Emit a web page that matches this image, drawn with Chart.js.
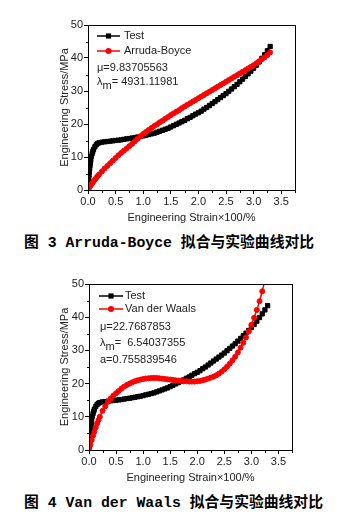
<!DOCTYPE html>
<html>
<head>
<meta charset="utf-8">
<script src="https://cdn.jsdelivr.net/npm/chart.js@4.4.1/dist/chart.umd.min.js"></script>
<style>
  body { margin: 0; background: #fff; }
  #page { position: relative; width: 341px; height: 529px; overflow: hidden; }
  canvas { position: absolute; left: 0; }
  .caption {
    position: absolute; left: 24px;
    font: bold 14.8px/18px "Liberation Mono", "Noto Sans CJK SC", monospace;
    color: #000; white-space: pre;
  }
</style>
</head>
<body>
<div id="page">
  <canvas id="abChart" width="341" height="230" style="top:0"></canvas>
  <div class="caption" style="top:234px">图 3 Arruda-Boyce 拟合与实验曲线对比</div>
  <canvas id="vdwChart" width="341" height="230" style="top:260px"></canvas>
  <div class="caption" style="top:494px">图 4 Van der Waals 拟合与实验曲线对比</div>
</div>
<script>
// test curve
const testStrain = [0, 0.005, 0.01, 0.015, 0.02, 0.025, 0.03, 0.035, 0.04, 0.045, 0.05, 0.0625,
  0.075, 0.0875, 0.1, 0.125, 0.15, 0.175,
  0.2, 0.25, 0.3, 0.35, 0.4, 0.45, 0.5, 0.55, 0.6, 0.65, 0.7, 0.75, 0.8, 0.85, 0.9, 0.95,
  1.0, 1.05, 1.1, 1.15, 1.2, 1.25, 1.3, 1.35, 1.4, 1.45, 1.5, 1.55, 1.6, 1.65, 1.7, 1.75,
  1.8, 1.85, 1.9, 1.95, 2.0, 2.05, 2.1, 2.15, 2.2, 2.25, 2.3, 2.35, 2.4, 2.45, 2.5, 2.55,
  2.6, 2.65, 2.7, 2.75, 2.8, 2.85, 2.9, 2.95, 3.0, 3.05, 3.1, 3.15, 3.2, 3.25, 3.3];
const testStress = [0, 1.3, 2.5, 3.5, 4.5, 5.5, 6.5, 7.3, 8.0, 8.6, 9.2, 10.2,
  11.0, 11.7, 12.3, 13.1, 13.7, 14.1,
  14.3, 14.5, 14.6, 14.7, 14.8, 14.9, 15.0, 15.1, 15.2, 15.35, 15.5, 15.6, 15.75, 15.9, 16.05, 16.2,
  16.4, 16.6, 16.8, 17.0, 17.2, 17.5, 17.8, 18.1, 18.4, 18.7, 19.1, 19.5, 19.9, 20.3, 20.7, 21.1,
  21.6, 22.0, 22.5, 23.0, 23.4, 23.9, 24.5, 25.0, 25.6, 26.2, 26.8, 27.4, 28.0, 28.6, 29.2, 29.9,
  30.6, 31.3, 32.0, 32.8, 33.6, 34.4, 35.2, 36.0, 36.9, 37.8, 38.8, 39.9, 41.0, 42.2, 43.5];

// fitted curves
const fitStrain = [0, 0.025, 0.05, 0.075, 0.1, 0.125, 0.15, 0.175, 0.2, 0.25, 0.3, 0.35, 0.4,
  0.45, 0.5, 0.55, 0.6, 0.65,
  0.7, 0.75, 0.8, 0.85, 0.9, 0.95, 1.0, 1.05, 1.1, 1.15, 1.2, 1.25, 1.3, 1.35, 1.4, 1.45, 1.5,
  1.55, 1.6, 1.65, 1.7, 1.75, 1.8, 1.85, 1.9, 1.95, 2.0, 2.05, 2.1, 2.15, 2.2, 2.25, 2.3, 2.35,
  2.4, 2.45, 2.5, 2.55, 2.6, 2.65, 2.7, 2.75, 2.8, 2.85, 2.9, 2.95, 3.0, 3.05, 3.1, 3.15, 3.2,
  3.25, 3.3];
const abStress = [0, 0.75, 1.4, 2.0, 2.6, 3.15, 3.7, 4.2, 4.7, 5.6, 6.5, 7.3, 8.1,
  8.9, 9.7, 10.5, 11.2, 11.9,
  12.6, 13.3, 14.0, 14.8, 15.5, 16.3, 17.0, 17.6, 18.2, 18.8, 19.4, 19.9, 20.5, 21.0, 21.6, 22.1, 22.7,
  23.2, 23.7, 24.2, 24.8, 25.3, 25.8, 26.3, 26.8, 27.3, 27.8, 28.3, 28.8, 29.3, 29.8, 30.3, 30.8, 31.3,
  31.8, 32.3, 32.8, 33.3, 33.8, 34.3, 34.8, 35.3, 35.8, 36.3, 36.8, 37.3, 37.8, 38.4, 39.0, 39.6, 40.2,
  40.9, 41.7];
const vdwStress = [0, 1.6, 3.0, 4.3, 5.5, 6.8, 8.0, 9.0, 10.0, 11.8, 13.2, 14.5, 15.5,
  16.4, 17.1, 17.8, 18.5, 19.1,
  19.6, 20.0, 20.4, 20.7, 21.0, 21.2, 21.4, 21.5, 21.6, 21.7, 21.7, 21.7, 21.6, 21.5, 21.4, 21.3, 21.2,
  21.1, 21.0, 20.9, 20.8, 20.7, 20.7, 20.6, 20.6, 20.6, 20.7, 20.8, 21.0, 21.2, 21.5, 21.8, 22.1, 22.5,
  23.0, 23.6, 24.3, 25.1, 26.0, 27.0, 28.1, 29.4, 30.8, 32.3, 33.9, 35.7, 37.7, 39.8, 42.2, 44.8, 47.8,
  51.2];

const xTicks = [0, 0.5, 1.0, 1.5, 2.0, 2.5, 3.0, 3.5];
const yTicks = [0, 10, 20, 30, 40, 50];
const xMinor = [0.25, 0.75, 1.25, 1.75, 2.25, 2.75, 3.25, 3.75];
const yMinor = [5, 15, 25, 35, 45];

const abNotes = [['μ=9.83705563'], ['λ', 'm', '= 4931.11981']];
const vdwNotes = [['μ=22.7687853'], ['λ', 'm', '=  6.54037355'], ['a=0.755839546']];

Chart.defaults.font.family = '"Liberation Sans", Arial, sans-serif';
Chart.defaults.font.size = 11;
Chart.defaults.color = '#222';

function pts(xs, ys) {
  return ys.map((v, i) => ({x: xs[i], y: v}));
}

function marker(ctx, style, color, x, y) {
  ctx.fillStyle = color;
  ctx.beginPath();
  if (style === 'rect') ctx.rect(x - 2.6, y - 2.6, 5.2, 5.2);
  else ctx.arc(x, y, 3, 0, Math.PI * 2);
  ctx.fill();
}

// frame, minor ticks, in-plot legend and fit parameters
const decor = {
  id: 'decor',
  afterDraw(chart, args, o) {
    const {ctx, chartArea: a, scales: {x, y}} = chart;
    ctx.save();
    ctx.strokeStyle = '#000';
    ctx.lineWidth = 1;
    const L = Math.round(a.left) + 0.5, T = Math.round(a.top) + 0.5;
    const R = Math.round(a.right) + 0.5, B = Math.round(a.bottom) + 0.5;
    ctx.strokeRect(L, T, R - L, B - T);
    ctx.beginPath();
    xMinor.forEach(v => {
      const px = Math.round(x.getPixelForValue(v)) + 0.5;
      if (px <= R) { ctx.moveTo(px, B); ctx.lineTo(px, B + 2.5); }
    });
    yMinor.forEach(v => {
      const py = Math.round(y.getPixelForValue(v)) + 0.5;
      ctx.moveTo(L, py); ctx.lineTo(L - 2.5, py);
    });
    ctx.stroke();

    ctx.font = '11px "Liberation Sans", Arial, sans-serif';
    ctx.textBaseline = 'middle';
    chart.data.datasets.forEach((ds, i) => {
      const ry = o.legend.rows[i];
      ctx.strokeStyle = ds.borderColor;
      ctx.lineWidth = 1.5;
      ctx.beginPath();
      ctx.moveTo(o.legend.x0, ry);
      ctx.lineTo(o.legend.x1, ry);
      ctx.stroke();
      marker(ctx, ds.pointStyle, ds.borderColor, (o.legend.x0 + o.legend.x1) / 2, ry);
      ctx.fillStyle = '#222';
      ctx.fillText(ds.label, o.legend.textX, ry);
    });

    ctx.fillStyle = '#222';
    o.notes.lines.forEach((parts, i) => {
      const ry = o.notes.rows[i];
      let px = o.notes.x;
      if (parts.length === 1) { ctx.fillText(parts[0], px, ry); return; }
      ctx.fillText(parts[0], px, ry);
      px += ctx.measureText(parts[0]).width;
      ctx.fillText(parts[1], px, ry + 3.5);
      px += ctx.measureText(parts[1]).width;
      ctx.fillText(parts[2], px, ry);
    });
    ctx.restore();
  }
};

function makeChart(id, fitLabel, fitStress, layout) {
  const n = Math.min(fitStrain.length, fitStress.length);
  return new Chart(document.getElementById(id), {
    type: 'scatter',
    data: {
      datasets: [
        {
          label: 'Test', data: pts(testStrain, testStress), showLine: true, order: 2,
          borderColor: '#000', backgroundColor: '#000', borderWidth: 1.5,
          pointStyle: 'rect', pointRadius: 3, pointBorderWidth: 1
        },
        {
          label: fitLabel, data: pts(fitStrain.slice(0, n), fitStress.slice(0, n)), showLine: true, order: 1,
          borderColor: '#ff0000', backgroundColor: '#ff0000', borderWidth: 1.5,
          pointStyle: 'circle', pointRadius: 2.5, pointBorderWidth: 1
        }
      ]
    },
    options: {
      responsive: false,
      animation: false,
      events: [],
      layout: {padding: {left: 0, right: layout.right, top: layout.top, bottom: 0}},
      plugins: {
        legend: {display: false},
        tooltip: {enabled: false},
        decor: {legend: layout.legend, notes: layout.notes}
      },
      scales: {
        x: {
          type: 'linear', min: 0, max: 3.75,
          afterBuildTicks: s => { s.ticks = xTicks.map(v => ({value: v})); },
          afterFit: s => { s.height = 230 - layout.bottom; },
          ticks: {padding: 1, maxRotation: 0, autoSkip: false, callback: v => v.toFixed(1)},
          grid: {drawOnChartArea: false, drawTicks: true, tickLength: 4, color: '#000'},
          border: {display: false},
          title: {display: true, text: 'Engineering Strain×100/%', padding: {top: 0, bottom: 5}}
        },
        y: {
          type: 'linear', min: 0, max: 50,
          afterBuildTicks: s => { s.ticks = yTicks.map(v => ({value: v})); },
          afterFit: s => { s.width = layout.left; },
          ticks: {padding: 1},
          grid: {drawOnChartArea: false, drawTicks: true, tickLength: 4, color: '#000'},
          border: {display: false},
          title: {display: true, text: 'Engineering Stress/MPa', padding: {top: 58, bottom: 0}}
        }
      }
    },
    plugins: [decor]
  });
}

makeChart('abChart', 'Arruda-Boyce', abStress, {
  left: 88, right: 46, top: 25, bottom: 190,
  legend: {x0: 97, x1: 120, textX: 124, rows: [36, 51]},
  notes: {x: 97, rows: [68, 82], lines: abNotes}
});

makeChart('vdwChart', 'Van der Waals', vdwStress, {
  left: 89, right: 49, top: 24, bottom: 190,
  legend: {x0: 99, x1: 123, textX: 125, rows: [36, 49]},
  notes: {x: 100, rows: [67, 83, 100], lines: vdwNotes}
});
</script>
</body>
</html>
